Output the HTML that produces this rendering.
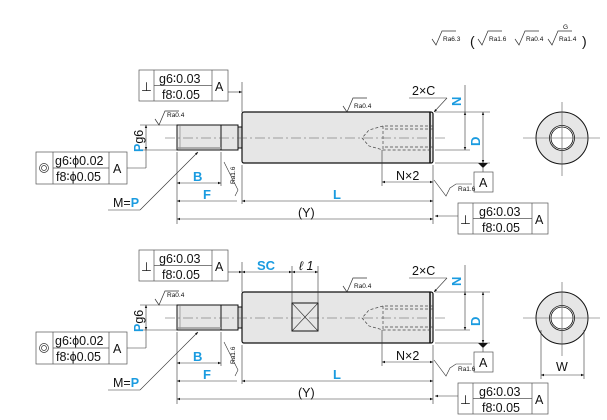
<!DOCTYPE html>
<html><head><meta charset="utf-8"><style>
html,body{margin:0;padding:0;background:#fff}
svg{display:block}
text{font-family:"Liberation Sans",sans-serif;fill:#111}
.b{fill:#1a9be0;font-weight:bold}
</style></head><body>
<svg width="607" height="420" viewBox="0 0 607 420" xmlns="http://www.w3.org/2000/svg">
<defs>
<marker id="ar" viewBox="0 0 10 10" refX="10" refY="5" markerWidth="7" markerHeight="5" orient="auto-start-reverse"><path d="M0,1 L10,5 L0,9z" fill="#111"/></marker>
<g id="ra" fill="none" stroke="#333" stroke-width="0.7"><path d="M0,-6 L4,0 L10,-14 L24,-14"/></g>
<g id="common">
 <rect x="177" y="125" width="44" height="25" fill="#e6e6e6" stroke="#111" stroke-width="1"/>
 <rect x="221" y="125" width="17" height="25" fill="#e6e6e6" stroke="#111" stroke-width="1"/>
 <rect x="238" y="127" width="4" height="21" fill="#cfcfcf" stroke="#111" stroke-width="1"/>
 <rect x="242" y="112" width="191" height="51" rx="2" fill="#e6e6e6" stroke="#111" stroke-width="1.2"/>
 <line x1="430" y1="112" x2="430" y2="163" stroke="#111" stroke-width="1.5"/>
 <line x1="180" y1="125" x2="180" y2="150" stroke="#777" stroke-width="0.6"/>
 <line x1="178" y1="148" x2="221" y2="148" stroke="#999" stroke-width="1.5"/>
 <g fill="none" stroke="#444" stroke-width="0.7" stroke-dasharray="3,2">
  <path d="M433,126 L383,126 L369,130 L362,138 L369,146 L383,150 L433,150"/>
  <path d="M433,129 L383,129 M433,147 L383,147 M383,126 L383,150"/>
 </g>
 <line x1="165" y1="138" x2="447" y2="138" stroke="#555" stroke-width="0.6" stroke-dasharray="10,3,2,3"/>
 <g stroke="#333" stroke-width="0.6" fill="none">
  <line x1="140" y1="125" x2="177" y2="125"/><line x1="140" y1="150" x2="177" y2="150"/>
  <line x1="146" y1="125" x2="146" y2="150" marker-start="url(#ar)" marker-end="url(#ar)"/>
  <line x1="146" y1="150" x2="146" y2="168"/>
  <polyline points="127,168 146,168"/>
 </g>
 <text x="0" y="0" transform="translate(143,152) rotate(-90)" font-size="12.5"><tspan class="b">P</tspan>g6</text>
 <use href="#ra" x="155" y="125"/>
 <text x="167" y="117" font-size="6.5">Ra0.4</text>
 <g fill="#fff" stroke="#555" stroke-width="0.7">
  <rect x="139" y="70" width="89" height="31"/>
  <line x1="154" y1="70" x2="154" y2="101"/><line x1="212" y1="70" x2="212" y2="101"/><line x1="154" y1="85.5" x2="212" y2="85.5"/>
 </g>
 <text x="141" y="91" font-size="12.5">⊥</text>
 <text x="159" y="83" font-size="12.5">g6∶0.03</text>
 <text x="162" y="99" font-size="12.5">f8∶0.05</text>
 <text x="215" y="91" font-size="12.5">A</text>
 <line x1="228" y1="92" x2="242" y2="92" stroke="#333" stroke-width="0.6" marker-end="url(#ar)"/>
 <line x1="242" y1="82" x2="242" y2="112" stroke="#333" stroke-width="0.6"/>
 <g fill="#fff" stroke="#555" stroke-width="0.7">
  <rect x="36" y="152" width="91" height="32"/>
  <line x1="53" y1="152" x2="53" y2="184"/><line x1="109" y1="152" x2="109" y2="184"/><line x1="53" y1="168" x2="109" y2="168"/>
 </g>
 <circle cx="44" cy="168" r="4.5" fill="none" stroke="#333" stroke-width="0.7"/>
 <circle cx="44" cy="168" r="2.5" fill="none" stroke="#333" stroke-width="0.7"/>
 <text x="55" y="165" font-size="12.5">g6∶ϕ0.02</text>
 <text x="56" y="181" font-size="12.5">f8∶ϕ0.05</text>
 <text x="113" y="173" font-size="12.5">A</text>
 <line x1="108" y1="210" x2="140" y2="210" stroke="#333" stroke-width="0.6"/>
 <line x1="140" y1="210" x2="198" y2="152" stroke="#333" stroke-width="0.6" marker-end="url(#ar)"/>
 <text x="113" y="207" font-size="12.5">M=<tspan class="b">P</tspan></text>
 <g stroke="#333" stroke-width="0.6" fill="none">
  <line x1="177" y1="152" x2="177" y2="224"/>
  <line x1="221" y1="152" x2="221" y2="186"/>
  <line x1="242" y1="165" x2="242" y2="204"/>
  <line x1="433" y1="165" x2="433" y2="224"/>
  <line x1="177" y1="183" x2="221" y2="183" marker-start="url(#ar)" marker-end="url(#ar)"/>
  <line x1="177" y1="201" x2="237" y2="201" marker-start="url(#ar)"/>
  <line x1="242" y1="201" x2="433" y2="201" marker-start="url(#ar)" marker-end="url(#ar)"/>
  <line x1="177" y1="219" x2="433" y2="219" marker-start="url(#ar)" marker-end="url(#ar)"/>
  <line x1="382" y1="150" x2="382" y2="186"/>
  <line x1="382" y1="182" x2="433" y2="182" marker-start="url(#ar)" marker-end="url(#ar)"/>
 </g>
 <text x="193" y="181" font-size="13" class="b">B</text>
 <text x="203" y="199" font-size="13" class="b">F</text>
 <text x="333" y="199" font-size="13" class="b">L</text>
 <text x="298" y="217" font-size="12.5">(Y)</text>
 <text x="396" y="180" font-size="12.5">N×2</text>
 <path d="M235,196 L238,190 L224,162" fill="none" stroke="#333" stroke-width="0.6"/>
 <text x="0" y="0" transform="translate(235,184) rotate(-90)" font-size="6.5">Ra1.6</text>
 <use href="#ra" x="343" y="112"/>
 <text x="354" y="108" font-size="6.5">Ra0.4</text>
 <g stroke="#333" stroke-width="0.6" fill="none">
  <line x1="435" y1="112" x2="490" y2="112"/>
  <line x1="435" y1="163" x2="490" y2="163"/>
  <line x1="435" y1="150" x2="470" y2="150"/>
  <line x1="483" y1="112" x2="483" y2="163" marker-start="url(#ar)" marker-end="url(#ar)"/>
  <line x1="465" y1="85" x2="465" y2="112" />
  <line x1="465" y1="112" x2="465" y2="150" marker-start="url(#ar)" marker-end="url(#ar)"/>
  <line x1="409" y1="98" x2="447" y2="98"/>
  <line x1="447" y1="98" x2="434" y2="112" marker-end="url(#ar)"/>
 </g>
 <text x="412" y="95" font-size="12.5">2×C</text>
 <text x="0" y="0" transform="translate(461,106) rotate(-90)" font-size="13" class="b">N</text>
 <text x="0" y="0" transform="translate(480,146) rotate(-90)" font-size="13" class="b">D</text>
 <path d="M478,163 L488,163 L483,168z" fill="#111"/>
 <line x1="483" y1="168" x2="483" y2="172" stroke="#333" stroke-width="0.6"/>
 <rect x="474" y="172" width="19" height="20" fill="#fff" stroke="#555" stroke-width="0.7"/>
 <text x="479" y="187" font-size="12.5">A</text>
 <path d="M434,180 L446,196 L450,188 L456,184 L472,184" fill="none" stroke="#333" stroke-width="0.6"/>
 <text x="458" y="191" font-size="6.5">Ra1.6</text>
 <g fill="#fff" stroke="#555" stroke-width="0.7">
  <rect x="458" y="203" width="90" height="31"/>
  <line x1="473" y1="203" x2="473" y2="234"/><line x1="532" y1="203" x2="532" y2="234"/><line x1="473" y1="218.5" x2="532" y2="218.5"/>
 </g>
 <text x="460" y="224" font-size="12.5">⊥</text>
 <text x="479" y="216" font-size="12.5">g6∶0.03</text>
 <text x="482" y="232" font-size="12.5">f8∶0.05</text>
 <text x="535" y="224" font-size="12.5">A</text>
 <line x1="458" y1="216" x2="435" y2="216" stroke="#333" stroke-width="0.6" marker-end="url(#ar)"/>
 <circle cx="562" cy="138" r="26" fill="#e6e6e6" stroke="#111" stroke-width="1"/>
 <circle cx="562" cy="138" r="12.5" fill="#fff" stroke="#111" stroke-width="0.8"/>
 <circle cx="562" cy="138" r="11" fill="none" stroke="#111" stroke-width="0.8"/>
 <line x1="523" y1="138" x2="600" y2="138" stroke="#555" stroke-width="0.6"/>
 <line x1="562" y1="102" x2="562" y2="176" stroke="#555" stroke-width="0.6"/>
</g>
</defs>
<g font-size="6.5">
 <use href="#ra" x="432" y="45"/><text x="443" y="41">Ra6.3</text>
 <text x="470" y="46" font-size="14">(</text>
 <use href="#ra" x="478" y="45"/><text x="489" y="41">Ra1.6</text>
 <use href="#ra" x="515" y="45"/><text x="526" y="41">Ra0.4</text>
 <use href="#ra" x="548" y="45"/><text x="559" y="41">Ra1.4</text><text x="563" y="29">G</text>
 <text x="582" y="46" font-size="14">)</text>
</g>
<use href="#common"/>
<use href="#common" transform="translate(0,180)"/>
<rect x="292" y="303" width="26" height="28" fill="none" stroke="#111" stroke-width="1"/>
<path d="M292,303 L318,331 M318,303 L292,331" stroke="#333" stroke-width="0.6"/>
<g stroke="#333" stroke-width="0.6" fill="none">
 <line x1="292" y1="266" x2="292" y2="303"/>
 <line x1="318" y1="266" x2="318" y2="303"/>
 <line x1="242" y1="272" x2="292" y2="272" marker-start="url(#ar)" marker-end="url(#ar)"/>
 <line x1="292" y1="272" x2="318" y2="272" marker-start="url(#ar)" marker-end="url(#ar)"/>
 <line x1="541" y1="330" x2="541" y2="379"/>
 <line x1="584" y1="330" x2="584" y2="379"/>
 <line x1="541" y1="375" x2="584" y2="375" marker-start="url(#ar)" marker-end="url(#ar)"/>
</g>
<text x="257" y="270" font-size="13" class="b">SC</text>
<text x="299" y="270" font-size="12.5" font-style="italic">ℓ 1</text>
<text x="556" y="371" font-size="12.5">W</text>
</svg>
</body></html>
